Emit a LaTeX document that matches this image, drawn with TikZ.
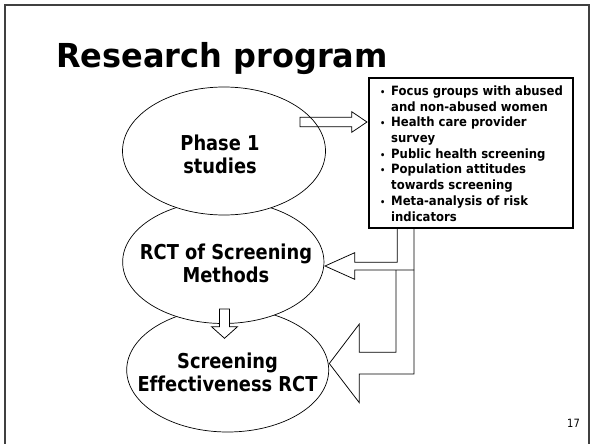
\documentclass[tikz,border=0pt]{standalone}
\usepackage{fontspec}
\setmainfont{DejaVu Sans}[FakeStretch=0.87,Ligatures=NoCommon]
\newfontfamily\titlefont{DejaVu Sans}[FakeStretch=0.97]
\newfontfamily\listfont{DejaVu Sans}[FakeStretch=0.91]
\usetikzlibrary{shapes.geometric}
\newcommand\bul{\makebox[11pt][l]{\fontsize{9}{9}\selectfont\textbullet}}
\newcommand\ind{\hspace*{11pt}}
\tikzset{
  ell/.style={ellipse, draw, fill=white, line width=0.7pt, inner sep=0pt},
  elltext/.style={inner sep=0pt, align=center, font=\bfseries\fontsize{20.5}{23}\selectfont},
  hollow/.style={draw, line width=0.75pt, line join=miter},
  frameline/.style={line width=2pt, black!75},
}
\begin{document}
\begin{tikzpicture}[x=1pt,y=-1pt]
\path[use as bounding box] (0,0) rectangle (594,444);
\fill[white] (0,0) rectangle (594,444);
\draw[frameline] (5,450) -- (5,5) -- (589,5) -- (589,450);
\node[anchor=base west, inner sep=0pt, font=\titlefont\bfseries\fontsize{33}{38}\selectfont] (title) at (56,67) {Research program};

\node[ell, minimum width=202pt, minimum height=124pt] (e3) at (227.7,370) {};
\node[elltext] (t3) at (227.5,372) {Screening\\Effectiveness RCT};
\node[ell, minimum width=201.3pt, minimum height=123pt] (e2) at (223.3,262) {};
\node[elltext] (t2) at (226,263.5) {RCT of Screening\\Methods};
\node[ell, minimum width=203pt, minimum height=128pt] (e1) at (224,151) {};
\node[elltext] (t1) at (220,154.5) {Phase 1\\studies};

% down arrow between e2 and e3
\coordinate (dtip) at (224.5,338.3);
\draw[hollow, fill=white] (219.5,309) -- (229.5,309) -- (229.5,326.7) -- (237.5,326.7) -- (dtip) -- (211.5,326.7) -- (219.5,326.7) -- cycle;

% list box
\node[draw, line width=2.2pt, minimum width=204pt, minimum height=150pt, inner sep=0pt, anchor=north west] (listbox) at (368,77) {};
\node[anchor=north west, inner sep=0pt, align=left, font=\listfont\bfseries\fontsize{12.8}{15.7}\selectfont] (list) at (380,85.5) {%
\bul Focus groups with abused\\
\ind and non-abused women\\
\bul Health care provider\\
\ind survey\\
\bul Public health screening\\
\bul Population attitudes\\
\ind towards screening\\
\bul Meta-analysis of risk\\
\ind indicators};

% arrow from Phase 1 to list
\coordinate (rtip) at (367,122);
\draw[hollow] (300,117.3) -- (351.7,117.3) -- (351.7,111.7) -- (rtip) -- (351.7,132.3) -- (351.7,126.7) -- (300,126.7) -- cycle;

% bent arrows from list to e2 and e3
\coordinate (tipA) at (325,266);
\coordinate (tipB) at (329.3,363.5);
\draw[hollow] (397.3,0 |- listbox.south) -- (397.3,262.3) -- (354.7,262.3) -- (354.7,252.7) -- (tipA) -- (354.7,279.3) -- (354.7,270) -- (414,270);
\draw[hollow] (414,0 |- listbox.south) -- (414,374) -- (359.3,374) -- (359.3,402.7) -- (tipB) -- (359.3,324) -- (359.3,352.3) -- (396,352.3) -- (396,270);

\node[inner sep=0pt, font=\fontsize{11.4}{12}\selectfont] (pg) at (573.5,423) {17};
\end{tikzpicture}
\end{document}
